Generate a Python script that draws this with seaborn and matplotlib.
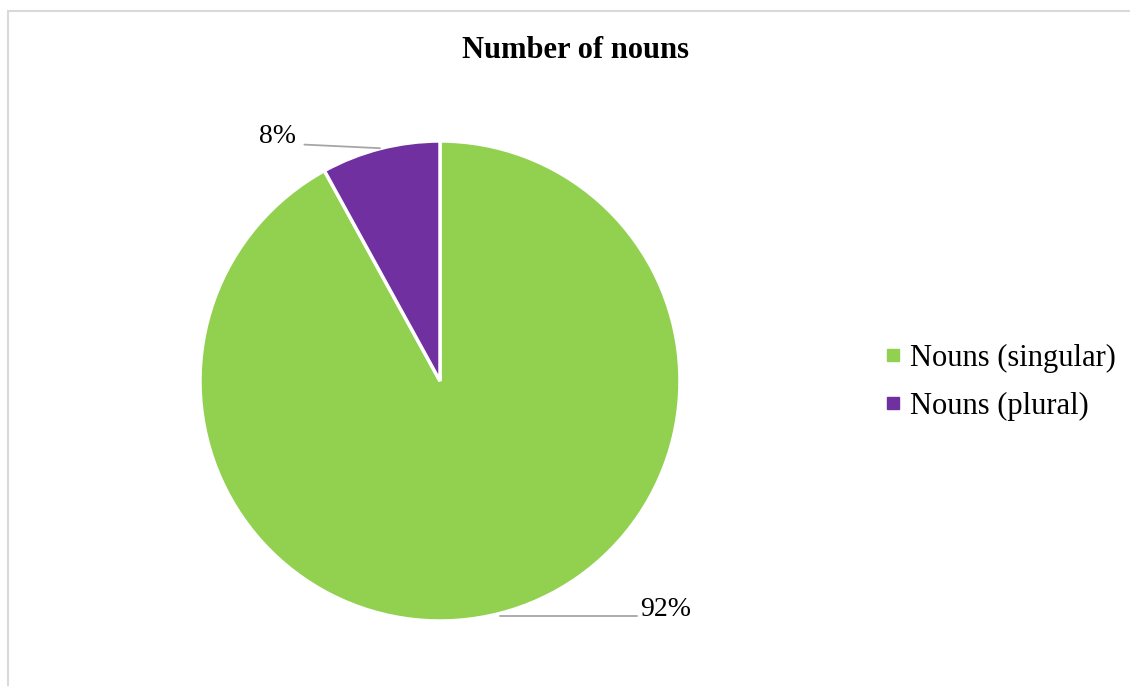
import matplotlib
matplotlib.use("Agg")
import matplotlib.pyplot as plt
import seaborn as sns
import numpy as np
from matplotlib.lines import Line2D
from matplotlib.patches import Rectangle

categories = ["Nouns (singular)", "Nouns (plural)"]
values = [92, 8]
pct_labels = ["92%", "8%"]
colors = ["#92D050", "#7030A0"]

sns.set_theme(style="white")
plt.rcParams['font.family'] = ['Liberation Serif', 'DejaVu Serif']

fig = plt.figure(figsize=(11.3, 6.86), dpi=100)
W, H = 1130, 686

# border
fig.patches.append(Rectangle((8 / W, -0.01), 1.02, 1 - 11 / H + 0.01, transform=fig.transFigure,
                             fill=False, edgecolor="#d9d9d9", linewidth=1.5))

cx, cy, r = 440, 381, 240
ax = fig.add_axes([(cx - r) / W, (H - cy - r) / H, 2 * r / W, 2 * r / H])
wedges, _ = ax.pie(values, colors=colors, startangle=90, counterclock=False, radius=1,
                   wedgeprops=dict(edgecolor="white", linewidth=2.5))
ax.set_xlim(-1, 1)
ax.set_ylim(-1, 1)
ax.set_aspect("equal")
ax.axis("off")

# data labels with leader lines
label_pos = {0: ((0.94, -0.95), (0.82, -0.98), (0.25, -0.98)),
             1: ((-0.675, 1.02), (-0.565, 0.985), (-0.25, 0.97))}
for i, w in enumerate(wedges):
    tx, ty = label_pos[i][0]
    lx0, ly0 = label_pos[i][1]
    lx1, ly1 = label_pos[i][2]
    ax.plot([lx0, lx1], [ly0, ly1], color="#a6a6a6", linewidth=1.3, clip_on=False)
    ax.text(tx, ty, pct_labels[i], ha="center", va="center", fontsize=20, color="black")

fig.text(575 / W, 1 - 51 / H, "Number of nouns", ha="center", va="center",
         fontsize=22, fontweight="bold", color="black")

handles = [Line2D([], [], marker="s", linestyle="none", markersize=8,
                  markerfacecolor=c, markeredgecolor=c) for c in colors]
fig.legend(handles, categories, loc="center left", bbox_to_anchor=(878 / W, 1 - 382 / H),
           frameon=False, fontsize=22, handletextpad=0.05, labelspacing=0.62,
           handlelength=1.0, borderpad=0, borderaxespad=0, labelcolor="black")

fig.savefig("out.png", dpi=100, facecolor="white")
